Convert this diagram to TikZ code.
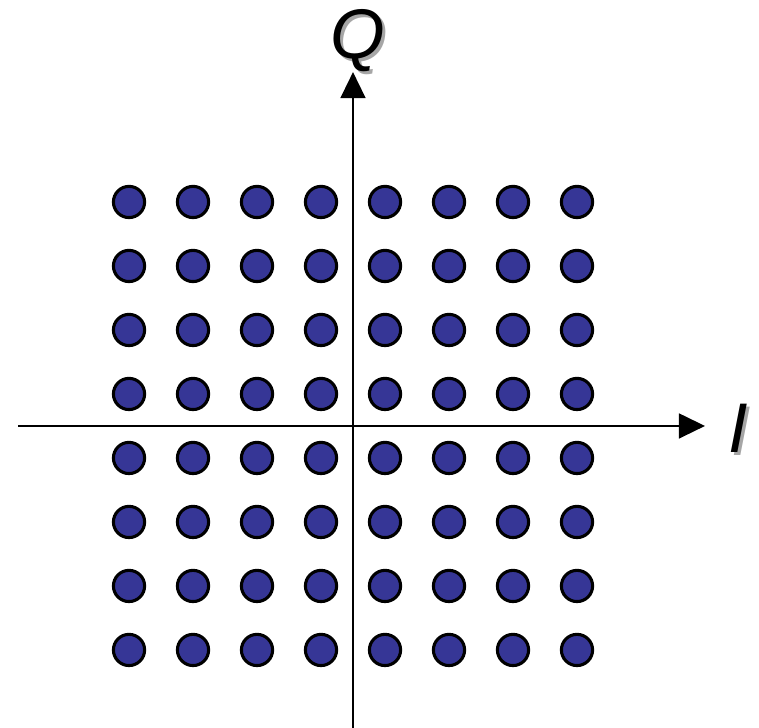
\documentclass[tikz,border=0pt]{standalone}
\usepackage{fontspec}
\setmainfont{Liberation Sans}
\usetikzlibrary{arrows.meta}
\definecolor{dotblue}{RGB}{54,54,150}

\begin{document}
\begin{tikzpicture}[x=1.6cm, y=1.6cm,
  pt/.style={draw, circle, line width=2.2pt, fill=dotblue, inner sep=0pt,
             minimum size=7.8mm},
  ax/.style={-{Triangle[length=6.5mm, width=6.2mm]}, line width=1.5pt},
  lab/.style={font=\fontsize{50}{54}\selectfont\itshape, inner sep=0pt},
  shd/.style={lab, text=black!35},
]
\useasboundingbox (-5.516,-4.719) rectangle (6.344,6.656);
% constellation points
\foreach \i in {1,...,8}
  \foreach \j in {1,...,8}
    \node[pt] (p\i\j) at (\i-4.5, \j-4.5) {};
% axes
\coordinate (xa) at (-5.234,0);
\coordinate (xb) at (5.5,0);
\coordinate (ya) at (0,-4.75);
\coordinate (yb) at (0,5.53);
\draw[ax] (xa) -- (xb);
\draw[ax] (ya) -- (yb);
% axis labels with shadow
\node[shd] (qs) at (0.13,5.97) {Q};
\node[lab] (q)  at (0.08,6.02) {Q};
\node[shd] (is) at (6.07,-0.08) {I};
\node[lab] (i)  at (6.02,-0.03) {I};
\end{tikzpicture}
\end{document}
